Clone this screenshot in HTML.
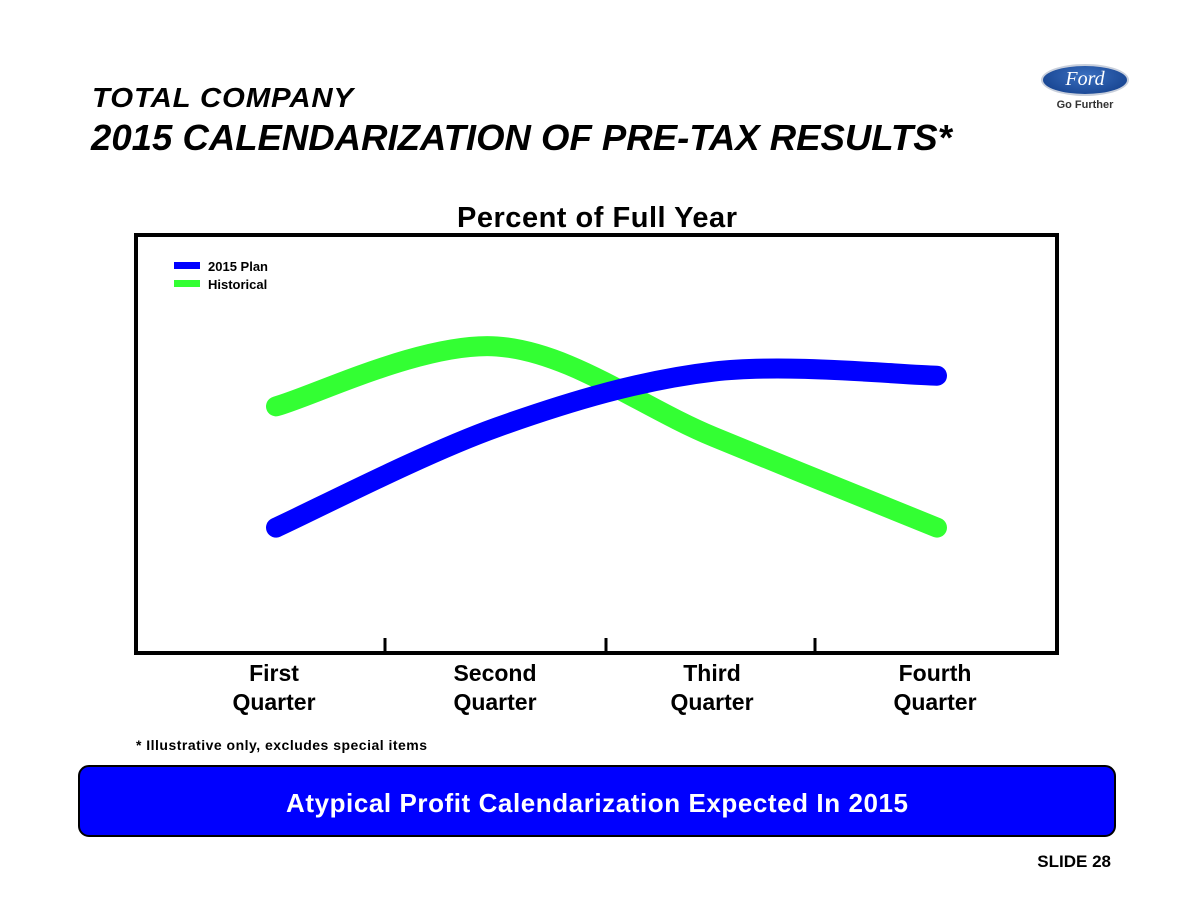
<!DOCTYPE html>
<html><head><meta charset="utf-8"><style>
body{margin:0;width:1195px;height:924px;background:#fff;position:relative;font-family:"Liberation Sans",Arial,sans-serif;overflow:hidden}
.t{position:absolute;font-weight:bold;font-style:italic;color:#000;white-space:nowrap}
</style></head><body>
<div class="t" style="left:92px;top:82px;font-size:28px;letter-spacing:0.8px;transform:scaleX(1.05);transform-origin:left">TOTAL COMPANY</div>
<div class="t" style="left:91px;top:117px;font-size:36px;transform:scaleX(1.015);transform-origin:left">2015 CALENDARIZATION OF PRE-TAX RESULTS*</div>
<div style="position:absolute;left:1041px;top:64px;width:88px;height:32px;border-radius:50%;background:radial-gradient(ellipse at 50% 35%,#3a6fc0,#0f3a85);border:2px solid #c8cfdc;box-sizing:border-box;color:#fff;font-family:'Liberation Serif',serif;font-style:italic;font-size:20px;text-align:center;line-height:27px">Ford</div>
<div style="position:absolute;left:1040px;top:99px;width:90px;text-align:center;font-size:11px;color:#333;font-weight:bold">Go Further</div>
<svg width="1195" height="924" style="position:absolute;left:0;top:0">
<text x="597" y="227" text-anchor="middle" font-size="29" font-weight="bold" textLength="280">Percent of Full Year</text>
<rect x="136" y="235" width="921" height="418" fill="none" stroke="#000" stroke-width="4"/>
<g id="ticks"></g>
<g id="lines"></g>
<g id="xlabels" font-size="23" font-weight="bold" text-anchor="middle"></g>
<rect x="174" y="262" width="26" height="7" fill="#0000ff"/>
<text x="208" y="271" font-size="13" font-weight="bold">2015 Plan</text>
<rect x="174" y="280" width="26" height="7" fill="#33ff33"/>
<text x="208" y="289" font-size="13" font-weight="bold">Historical</text>
<text x="136" y="750" font-size="14" font-weight="bold" textLength="291">* Illustrative only, excludes special items</text>
<rect x="79" y="766" width="1036" height="70" rx="10" fill="#0000ff" stroke="#000" stroke-width="2"/>
<text x="597" y="812" text-anchor="middle" font-size="26" font-weight="bold" fill="#fff" textLength="622">Atypical Profit Calendarization Expected In 2015</text>
<text x="1111" y="867" text-anchor="end" font-size="17" font-weight="bold">SLIDE 28</text>
</svg>
<script>
const categories=[["First","Quarter"],["Second","Quarter"],["Third","Quarter"],["Fourth","Quarter"]];
const planValues=[19.0,26.2,30.2,29.9];
const historicalValues=[27.7,32.0,25.5,19.0];
const xPos=[276,497,714,937];
function xScale(i){return xPos[i];}
function yScale(v){return 653-(v-10)/30*418;}
const NS="http://www.w3.org/2000/svg";
function pathFor(vals){
  const p=vals.map((v,i)=>[xScale(i),yScale(v)]);
  let d="M"+p[0][0]+","+p[0][1];
  for(let i=0;i<p.length-1;i++){
    const p0=p[i-1]||p[i],p1=p[i],p2=p[i+1],p3=p[i+2]||p2;
    const c1=[p1[0]+(p2[0]-p0[0])/6,p1[1]+(p2[1]-p0[1])/6];
    const c2=[p2[0]-(p3[0]-p1[0])/6,p2[1]-(p3[1]-p1[1])/6];
    d+=" C"+c1+" "+c2+" "+p2;
  }
  return d;
}
const lines=document.getElementById('lines');
[[historicalValues,"#33ff33","line-historical"],[planValues,"#0000ff","line-plan"]].forEach(s=>{
  const e=document.createElementNS(NS,'path');
  e.setAttribute('d',pathFor(s[0]));e.setAttribute('fill','none');e.setAttribute('stroke',s[1]);
  e.setAttribute('stroke-width','20');e.setAttribute('stroke-linecap','round');
  
  
  lines.appendChild(e);
});
const ticks=document.getElementById('ticks');
[385,606,815].forEach(x=>{
  const l=document.createElementNS(NS,'line');
  l.setAttribute('x1',x);l.setAttribute('x2',x);l.setAttribute('y1',638);l.setAttribute('y2',653);
  l.setAttribute('stroke','#000');l.setAttribute('stroke-width','3');
  
  
  ticks.appendChild(l);
});
const xl=document.getElementById('xlabels');
categories.forEach((c,i)=>{
  c.forEach((w,j)=>{
    const t=document.createElementNS(NS,'text');
    t.setAttribute('x',xScale(i)-2);t.setAttribute('y',681+j*29);t.textContent=w;
    
    
    xl.appendChild(t);
  });
});
</script>
</body></html>
